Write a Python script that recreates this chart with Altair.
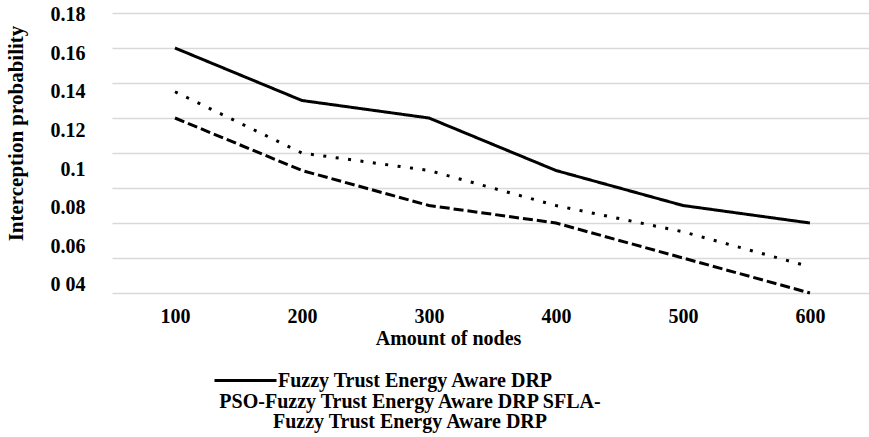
import altair as alt
import pandas as pd

nodes = [100, 200, 300, 400, 500, 600]
series_names = [
    "Fuzzy Trust Energy Aware DRP",
    "PSO-Fuzzy Trust Energy Aware DRP",
    "SFLA-Fuzzy Trust Energy Aware DRP",
]
fuzzy = [0.16, 0.13, 0.12, 0.09, 0.07, 0.06]
pso = [0.135, 0.10, 0.09, 0.07, 0.055, 0.035]
sfla = [0.12, 0.09, 0.07, 0.06, 0.04, 0.02]
grid_values = [0.02, 0.04, 0.06, 0.08, 0.10, 0.12, 0.14, 0.16, 0.18]
y_label_values = [0.04, 0.06, 0.08, 0.10, 0.12, 0.14, 0.16, 0.18]
legend_lines = ["PSO-Fuzzy Trust Energy Aware DRP SFLA-", "Fuzzy Trust Energy Aware DRP"]

rows = []
for name, vals in zip(series_names, [fuzzy, pso, sfla]):
    for n, v in zip(nodes, vals):
        rows.append({"nodes": n, "value": v, "series": name})
df = pd.DataFrame(rows)
labels_df = pd.DataFrame({"v": y_label_values})

FONT = "Liberation Serif"

lines = alt.Chart(df).mark_line(color="black", strokeWidth=3, strokeCap="butt").encode(
    x=alt.X(
        "nodes:Q",
        scale=alt.Scale(domain=[50.4, 646.5], nice=False, zero=False),
        axis=alt.Axis(
            values=nodes, grid=False, ticks=False, domain=False,
            labelFontSize=20, labelFont=FONT, labelFontWeight="bold", labelColor="black",
            labelPadding=13,
            title="Amount of nodes", titleFont=FONT, titleFontSize=20, titleFontWeight="bold",
            titleColor="black", titleX=336, titleY=51, titleBaseline="alphabetic",
        ),
    ),
    y=alt.Y(
        "value:Q",
        scale=alt.Scale(domain=[0.02, 0.18], nice=False, zero=False),
        axis=alt.Axis(
            values=grid_values, labels=False, ticks=False, domain=False, title="",
            grid=True, gridColor="#d9d9d9", gridWidth=1.5,
        ),
    ),
    strokeDash=alt.StrokeDash(
        "series:N",
        scale=alt.Scale(domain=series_names, range=[[1, 0], [3, 9.5], [10, 4]]),
        legend=alt.Legend(
            values=[series_names[0]], orient="none", legendX=101, legendY=335,
            title=None, symbolType="stroke", symbolSize=3844, symbolStrokeWidth=3,
            symbolStrokeColor="black", labelFont=FONT, labelFontSize=20,
            labelFontWeight="bold", labelColor="black", labelOffset=0, padding=0,
            labelLimit=0,
        ),
    ),
)

label_layer = alt.Chart(labels_df).mark_point(opacity=0).encode(
    y=alt.Y(
        "v:Q",
        scale=alt.Scale(domain=[0.0358, 0.18088], nice=False, zero=False),
        axis=alt.Axis(
            orient="left", values=y_label_values, grid=False, ticks=False, domain=False,
            labelFontSize=20, labelFont=FONT, labelFontWeight="bold", labelColor="black",
            labelPadding=27,
            labelExpr="datum.value < 0.05 ? '0 04' : format(datum.value, '~g')",
            title="Interception probability", titleFont=FONT, titleFontSize=21,
            titleFontWeight="bold", titleColor="black", titleX=-96, titleY=120,
            titleAngle=270, titleBaseline="middle",
        ),
    ),
)

chart = alt.layer(lines, label_layer).resolve_scale(y="independent").properties(
    width=757,
    height=280,
    autosize=alt.AutoSizeParams(type="none"),
    padding={"left": 112, "top": 13, "right": 0, "bottom": 144},
    title=alt.TitleParams(
        text=legend_lines, orient="bottom", anchor="start", align="center",
        dx=405, dy=-3, font=FONT, fontSize=20, fontWeight="bold", color="black",
        lineHeight=20,
    ),
).configure_view(stroke=None)

chart.save("out.html", embed_options={"renderer": "svg", "actions": False})
